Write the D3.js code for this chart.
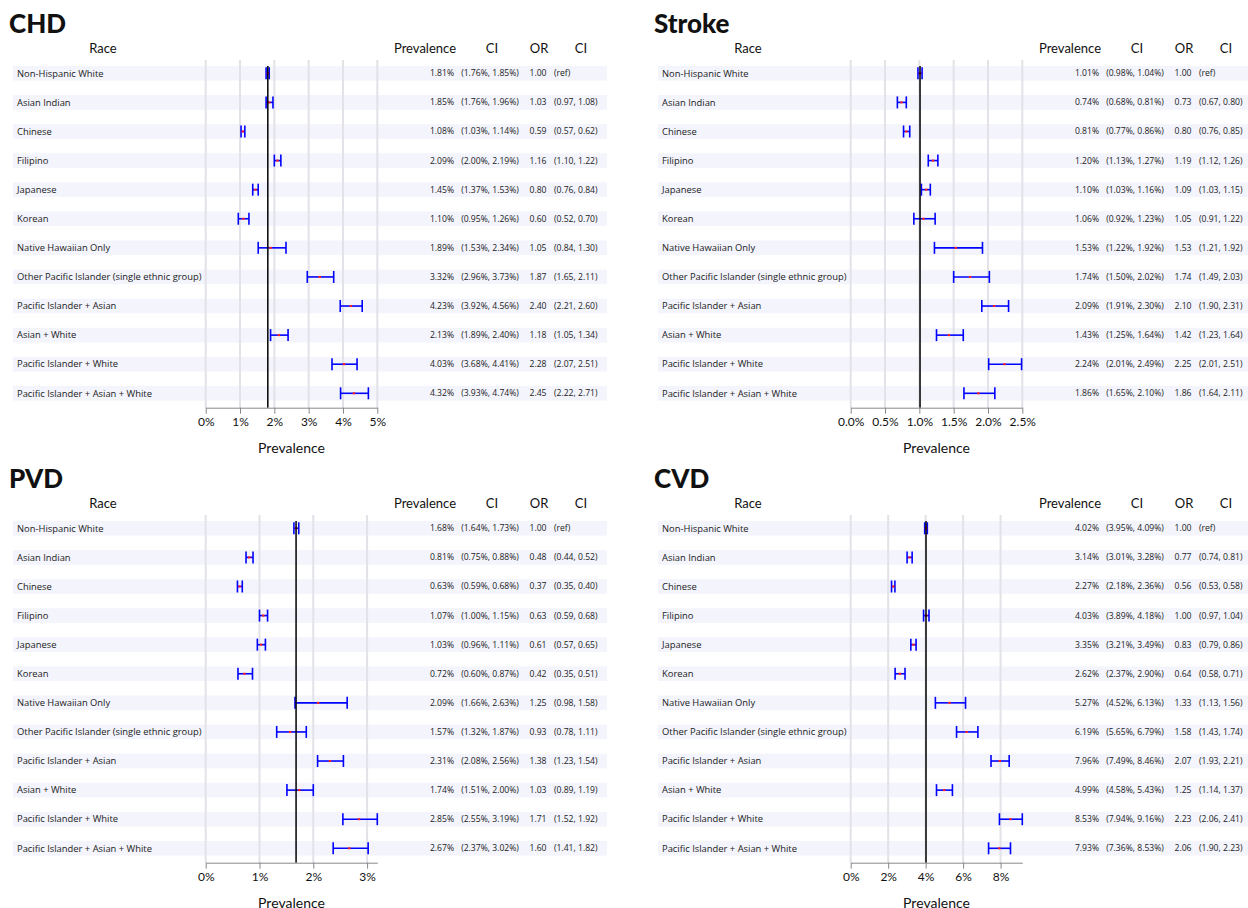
<!DOCTYPE html>
<html lang="en">
<head>
  <meta charset="UTF-8">
  <title>Prevalence by Race</title>
  <script src="https://d3js.org/d3.v7.min.js"></script>
  <style>
    body { margin: 0; background: #fff; }
    svg { display: block; }
    .small { font-family: "Open Sans", sans-serif; fill: #222; }
    .head { font-family: "Lato", sans-serif; fill: #111; }
  </style>
</head>
<body>
  <div id="chart"></div>
  <script>
    const races = [
      "Non-Hispanic White", "Asian Indian", "Chinese", "Filipino", "Japanese", "Korean",
      "Native Hawaiian Only", "Other Pacific Islander (single ethnic group)",
      "Pacific Islander + Asian", "Asian + White", "Pacific Islander + White",
      "Pacific Islander + Asian + White"
    ];

    const panelNames = ["CHD", "Stroke", "PVD", "CVD"];
    // axis end of each panel
    const axisMax = [5, 2.5, 3.19, 9.16];

    // prevalence (%) with CI, odds ratio with CI
    const chdPrev = [1.81, 1.85, 1.08, 2.09, 1.45, 1.10, 1.89, 3.32, 4.23, 2.13, 4.03, 4.32];
    const chdLo = [1.76, 1.76, 1.03, 2.00, 1.37, 0.95, 1.53, 2.96, 3.92, 1.89, 3.68, 3.93];
    const chdHi = [1.85, 1.96, 1.14, 2.19, 1.53, 1.26, 2.34, 3.73, 4.56, 2.40, 4.41, 4.74];
    const chdOR = [1.00, 1.03, 0.59, 1.16, 0.80, 0.60, 1.05, 1.87, 2.40, 1.18, 2.28, 2.45];
    const chdORLo = [null, 0.97, 0.57, 1.10, 0.76, 0.52, 0.84, 1.65, 2.21, 1.05, 2.07, 2.22];
    const chdORHi = [null, 1.08, 0.62, 1.22, 0.84, 0.70, 1.30, 2.11, 2.60, 1.34, 2.51, 2.71];

    const strokePrev = [1.01, 0.74, 0.81, 1.20, 1.10, 1.06, 1.53, 1.74, 2.09, 1.43, 2.24, 1.86];
    const strokeLo = [0.98, 0.68, 0.77, 1.13, 1.03, 0.92, 1.22, 1.50, 1.91, 1.25, 2.01, 1.65];
    const strokeHi = [1.04, 0.81, 0.86, 1.27, 1.16, 1.23, 1.92, 2.02, 2.30, 1.64, 2.49, 2.10];
    const strokeOR = [1.00, 0.73, 0.80, 1.19, 1.09, 1.05, 1.53, 1.74, 2.10, 1.42, 2.25, 1.86];
    const strokeORLo = [null, 0.67, 0.76, 1.12, 1.03, 0.91, 1.21, 1.49, 1.90, 1.23, 2.01, 1.64];
    const strokeORHi = [null, 0.80, 0.85, 1.26, 1.15, 1.22, 1.92, 2.03, 2.31, 1.64, 2.51, 2.11];

    const pvdPrev = [1.68, 0.81, 0.63, 1.07, 1.03, 0.72, 2.09, 1.57, 2.31, 1.74, 2.85, 2.67];
    const pvdLo = [1.64, 0.75, 0.59, 1.00, 0.96, 0.60, 1.66, 1.32, 2.08, 1.51, 2.55, 2.37];
    const pvdHi = [1.73, 0.88, 0.68, 1.15, 1.11, 0.87, 2.63, 1.87, 2.56, 2.00, 3.19, 3.02];
    const pvdOR = [1.00, 0.48, 0.37, 0.63, 0.61, 0.42, 1.25, 0.93, 1.38, 1.03, 1.71, 1.60];
    const pvdORLo = [null, 0.44, 0.35, 0.59, 0.57, 0.35, 0.98, 0.78, 1.23, 0.89, 1.52, 1.41];
    const pvdORHi = [null, 0.52, 0.40, 0.68, 0.65, 0.51, 1.58, 1.11, 1.54, 1.19, 1.92, 1.82];

    const cvdPrev = [4.02, 3.14, 2.27, 4.03, 3.35, 2.62, 5.27, 6.19, 7.96, 4.99, 8.53, 7.93];
    const cvdLo = [3.95, 3.01, 2.18, 3.89, 3.21, 2.37, 4.52, 5.65, 7.49, 4.58, 7.94, 7.36];
    const cvdHi = [4.09, 3.28, 2.36, 4.18, 3.49, 2.90, 6.13, 6.79, 8.46, 5.43, 9.16, 8.53];
    const cvdOR = [1.00, 0.77, 0.56, 1.00, 0.83, 0.64, 1.33, 1.58, 2.07, 1.25, 2.23, 2.06];
    const cvdORLo = [null, 0.74, 0.53, 0.97, 0.79, 0.58, 1.13, 1.43, 1.93, 1.14, 2.06, 1.90];
    const cvdORHi = [null, 0.81, 0.58, 1.04, 0.86, 0.71, 1.56, 1.74, 2.21, 1.37, 2.41, 2.23];

    const series = [
      [chdPrev, chdLo, chdHi, chdOR, chdORLo, chdORHi],
      [strokePrev, strokeLo, strokeHi, strokeOR, strokeORLo, strokeORHi],
      [pvdPrev, pvdLo, pvdHi, pvdOR, pvdORLo, pvdORHi],
      [cvdPrev, cvdLo, cvdHi, cvdOR, cvdORLo, cvdORHi]
    ];

    const width = 1248, height = 908;
    const offsets = [[0, 0], [645, 0], [0, 455], [645, 455]];

    const svg = d3.select("#chart").append("svg")
      .attr("width", width).attr("height", height);

    const y = d3.scalePoint().domain(races).range([73.3, 393.3]);
    const axisY = 407.7;

    function drawPanel(k) {
      const [prev, lo, hi, or, orLo, orHi] = series[k];
      const rows = races.map((r, i) => ({ race: r, prev: prev[i], lo: lo[i], hi: hi[i], or: or[i], orLo: orLo[i], orHi: orHi[i] }));
      const g = svg.append("g").attr("transform", `translate(${offsets[k][0]},${offsets[k][1]})`);

      const x = d3.scaleLinear().domain([0, axisMax[k]]).range([205.7, 377.3]);
      const ticks = x.ticks(4);
      const step = ticks[1] - ticks[0];
      const fmt = d => d.toFixed(step < 1 ? 1 : 0) + "%";

      g.append("text").attr("class", "head").attr("x", 9).attr("y", 33)
        .style("font-size", "26px").style("font-weight", 900).text(panelNames[k]);

      const heads = [["Race", 103], ["Prevalence", 425], ["CI", 492], ["OR", 539], ["CI", 581]];
      g.selectAll(".colhead").data(heads).join("text")
        .attr("class", "head colhead").attr("x", d => d[1]).attr("y", 53)
        .attr("text-anchor", "middle").style("font-size", "13px").text(d => d[0]);

      // row bands
      g.selectAll(".band").data(rows).join("rect")
        .attr("x", 13).attr("width", 594)
        .attr("y", d => y(d.race) - 7.3).attr("height", 14.6)
        .attr("fill", "#f3f4fc");

      // grid lines
      g.selectAll(".grid").data(ticks).join("line")
        .attr("x1", d => x(d)).attr("x2", d => x(d))
        .attr("y1", 60).attr("y2", axisY)
        .attr("stroke", "#e2e2e8").attr("stroke-width", 2);

      g.selectAll(".label").data(rows).join("text")
        .attr("class", "small").attr("x", 17).attr("y", d => y(d.race)).attr("dy", "0.35em")
        .style("font-size", "9.4px").text(d => d.race);

      // error bars
      const bars = g.selectAll(".bar").data(rows).join("g")
        .attr("transform", d => `translate(0,${y(d.race)})`);
      bars.append("line").attr("x1", d => x(d.lo)).attr("x2", d => x(d.hi))
        .attr("stroke", "#0000ff").attr("stroke-width", 1.6);
      bars.append("line").attr("x1", d => x(d.lo)).attr("x2", d => x(d.lo))
        .attr("y1", -6).attr("y2", 6).attr("stroke", "#0000ff").attr("stroke-width", 1.6);
      bars.append("line").attr("x1", d => x(d.hi)).attr("x2", d => x(d.hi))
        .attr("y1", -6).attr("y2", 6).attr("stroke", "#0000ff").attr("stroke-width", 1.6);

      // reference line at non-Hispanic White prevalence
      g.append("line").attr("x1", x(prev[0])).attr("x2", x(prev[0]))
        .attr("y1", 66).attr("y2", axisY).attr("stroke", "#000").attr("stroke-width", 1.5);

      bars.append("rect").attr("x", d => x(d.prev) - 1.2).attr("y", -1).attr("width", 2.4).attr("height", 2)
        .attr("fill", "#ff2020");

      // axis
      const axis = g.append("g").attr("transform", `translate(0,${axisY})`)
        .call(d3.axisBottom(x).tickValues(ticks).tickFormat(fmt).tickSize(6).tickSizeOuter(0));
      axis.select(".domain").attr("stroke", "#888");
      axis.selectAll(".tick line").attr("stroke", "#888");
      axis.selectAll(".tick text").attr("class", "head").attr("y", 10)
        .style("font-size", "12px").attr("fill", "#111");

      g.append("text").attr("class", "head").attr("x", (x.range()[0] + x.range()[1]) / 2).attr("y", 453)
        .attr("text-anchor", "middle").style("font-size", "14px").text("Prevalence");

      // value columns
      const f2 = v => v.toFixed(2);
      const cols = g.selectAll(".vals").data(rows).join("g")
        .attr("transform", d => `translate(0,${y(d.race)})`);
      cols.append("text").attr("class", "small").attr("x", 454).attr("dy", "0.35em")
        .attr("text-anchor", "end").style("font-size", "8.6px").text(d => f2(d.prev) + "%");
      cols.append("text").attr("class", "small").attr("x", 490).attr("dy", "0.35em")
        .attr("text-anchor", "middle").style("font-size", "8.6px")
        .text(d => `(${f2(d.lo)}%, ${f2(d.hi)}%)`);
      cols.append("text").attr("class", "small").attr("x", 538).attr("dy", "0.35em")
        .attr("text-anchor", "middle").style("font-size", "8.6px").text(d => f2(d.or));
      cols.append("text").attr("class", "small").attr("x", 554).attr("dy", "0.35em")
        .style("font-size", "8.6px")
        .text(d => d.orLo == null ? "(ref)" : `(${f2(d.orLo)}, ${f2(d.orHi)})`);
    }

    panelNames.forEach((_, k) => drawPanel(k));
  </script>
</body>
</html>
